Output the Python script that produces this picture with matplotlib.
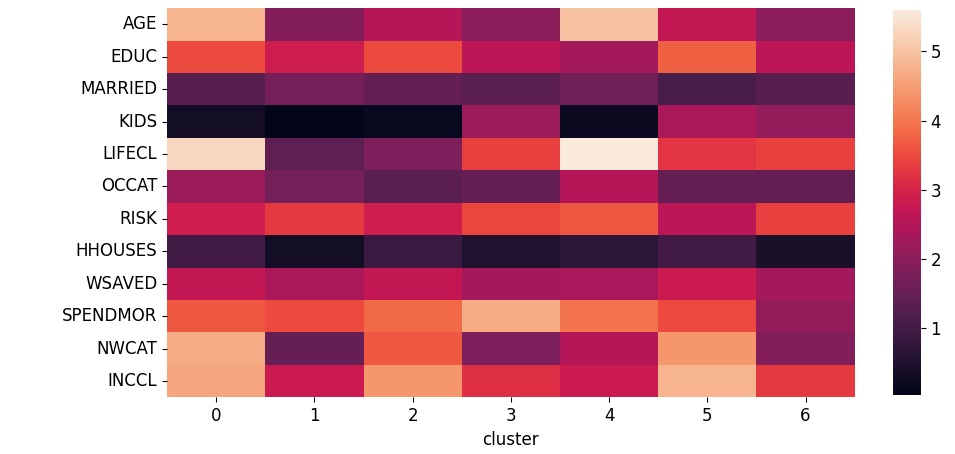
import numpy as np
import pandas as pd
import matplotlib
matplotlib.use("Agg")
import matplotlib.pyplot as plt
import seaborn as sns

features = ["AGE", "EDUC", "MARRIED", "KIDS", "LIFECL", "OCCAT", "RISK",
            "HHOUSES", "WSAVED", "SPENDMOR", "NWCAT", "INCCL"]
clusters = [0, 1, 2, 3, 4, 5, 6]

AGE      = [4.8, 1.9, 2.5, 2.0, 5.0, 2.7, 2.0]
EDUC     = [3.5, 2.85, 3.5, 2.6, 2.3, 3.75, 2.6]
MARRIED  = [1.3, 1.7, 1.45, 1.35, 1.65, 1.1, 1.3]
KIDS     = [0.3, 0.03, 0.15, 2.2, 0.2, 2.4, 2.1]
LIFECL   = [5.3, 1.4, 1.8, 3.4, 5.6, 3.25, 3.4]
OCCAT    = [2.2, 1.7, 1.35, 1.5, 2.5, 1.5, 1.45]
RISK     = [2.9, 3.3, 2.9, 3.45, 3.65, 2.6, 3.4]
HHOUSES  = [1.0, 0.3, 0.9, 0.5, 0.7, 1.0, 0.4]
WSAVED   = [2.7, 2.4, 2.7, 2.3, 2.35, 2.8, 2.3]
SPENDMOR = [3.65, 3.5, 3.85, 4.7, 3.95, 3.5, 2.1]
NWCAT    = [4.7, 1.5, 3.65, 1.8, 2.5, 4.4, 1.9]
INCCL    = [4.6, 2.8, 4.4, 3.15, 2.8, 4.8, 3.3]

rows = [AGE, EDUC, MARRIED, KIDS, LIFECL, OCCAT, RISK,
        HHOUSES, WSAVED, SPENDMOR, NWCAT, INCCL]
df = pd.DataFrame(rows, index=features, columns=pd.Index(clusters, name="cluster"))

fig = plt.figure(figsize=(9.55, 4.54), dpi=100)
ax = fig.add_axes([0.175, 0.125, 0.72, 0.857])
cax = fig.add_axes([0.935, 0.13, 0.029, 0.848])
sns.heatmap(df, ax=ax, cbar_ax=cax, cmap="rocket")
ax.tick_params(labelsize=12)
ax.set_xlabel("cluster", fontsize=12)
cax.tick_params(labelsize=12)
ax.set_yticklabels(features, rotation=0)
fig.savefig("out.png", dpi=100)
